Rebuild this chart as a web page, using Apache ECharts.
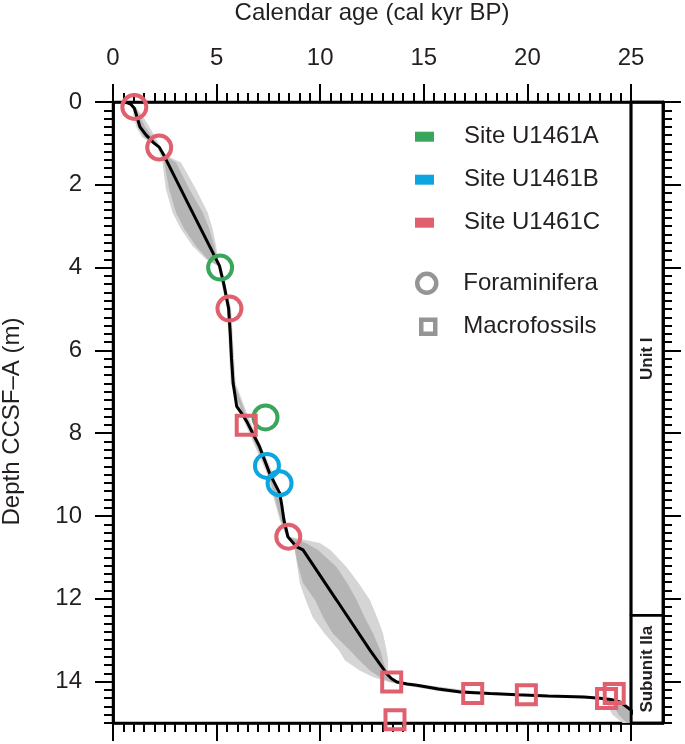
<!DOCTYPE html>
<html><head><meta charset="utf-8">
<script src="https://cdn.jsdelivr.net/npm/echarts@6/dist/echarts.min.js"></script>
<style>html,body{margin:0;padding:0;background:#fff}#c{width:685px;height:744px}</style>
</head><body><div id="c"></div>
<script>
// ---- data ----
const xTicks = [0, 5, 10, 15, 20, 25];
const yTicks = [0, 2, 4, 6, 8, 10, 12, 14];

// age-depth model median (age kyr, depth m)
const lineAge   = [0.6, 0.85, 1.03, 1.15, 1.3, 1.6, 1.95, 2.23, 2.47, 3.8, 5.14, 5.35, 5.58, 5.66, 5.72, 5.8, 5.97, 6.25, 6.49, 7.07, 7.56, 8.04, 8.15, 8.25, 8.44, 8.85, 9.17, 10.79, 12.4, 13.21, 13.45, 13.7, 14.2, 14.67, 15.7, 16.76, 18.2, 19.51, 21.0, 22.74, 23.5, 24.03, 24.5, 25.0, 25.4];
const lineDepth = [0.0, 0.05, 0.15, 0.35, 0.6, 0.8, 0.98, 1.09, 1.30, 2.63, 3.96, 4.4, 4.99, 5.6, 6.2, 6.8, 7.35, 7.55, 7.75, 8.32, 8.97, 9.44, 9.75, 10.1, 10.5, 10.74, 10.82, 12.03, 13.24, 13.81, 13.93, 14.01, 14.06, 14.09, 14.18, 14.25, 14.29, 14.32, 14.35, 14.37, 14.4, 14.43, 14.5, 14.69, 14.95];

// uncertainty envelopes (95% light, 68% dark)
const envDepth = [0.0, 0.12, 0.35, 0.6, 0.85, 1.09, 1.3, 1.46, 2.1, 2.67, 3.07, 3.48, 3.8, 3.96, 4.99, 6.8, 7.75, 8.97, 10.1, 10.5, 10.65, 10.82, 11.23, 11.62, 12.03, 12.45, 12.83, 13.24, 13.49, 13.73, 13.9, 14.01, 14.09, 14.25, 14.32, 14.37, 14.43, 14.6, 14.8, 15.0];
const env95Lo  = [0.55, 0.95, 1.0, 1.12, 1.4, 2.15, 2.3, 2.39, 2.55, 2.87, 3.28, 3.84, 4.49, 5.05, 5.5, 5.68, 6.35, 7.42, 8.05, 8.36, 8.6, 8.77, 8.9, 9.01, 9.3, 9.64, 10.2, 10.9, 11.2, 11.9, 12.6, 13.3, 14.0, 16.0, 18.5, 21.5, 23.7, 23.9, 24.1, 24.6];
const env95Hi  = [0.65, 1.1, 1.45, 1.75, 2.05, 2.3, 2.6, 3.28, 4.0, 4.57, 4.81, 4.98, 5.06, 5.2, 5.7, 5.92, 6.65, 7.72, 8.35, 8.52, 9.98, 10.5, 11.27, 11.85, 12.4, 12.75, 13.03, 13.2, 13.28, 13.26, 13.4, 13.9, 15.2, 17.8, 20.5, 23.2, 24.4, 24.9, 25.3, 25.7];
const env68Lo  = [0.58, 0.98, 1.08, 1.2, 1.5, 2.2, 2.4, 2.47, 2.71, 3.04, 3.44, 4.0, 4.57, 5.1, 5.53, 5.74, 6.42, 7.49, 8.1, 8.4, 8.65, 8.78, 8.95, 9.17, 9.75, 10.15, 10.6, 11.43, 11.9, 12.4, 12.9, 13.4, 14.3, 16.4, 19.0, 22.0, 23.9, 24.2, 24.4, 24.8];
const env68Hi  = [0.62, 1.06, 1.3, 1.55, 1.9, 2.26, 2.52, 3.04, 3.68, 4.33, 4.65, 4.89, 5.04, 5.17, 5.66, 5.86, 6.56, 7.64, 8.3, 8.48, 9.3, 9.9, 10.79, 11.3, 11.76, 12.15, 12.55, 12.9, 13.03, 13.18, 13.35, 13.75, 15.0, 17.3, 20.0, 23.0, 24.2, 24.75, 25.15, 25.5];

// dated samples: [age, depth, type]  F = Foraminifera, M = Macrofossils
const siteA = [[5.17, 4.0, 'F'], [7.36, 7.62, 'F']];
const siteB = [[7.43, 8.79, 'F'], [8.04, 9.21, 'F']];
const siteC = [[1.03, 0.12, 'F'], [2.23, 1.1, 'F'], [5.62, 4.99, 'F'], [6.43, 7.81, 'M'], [8.46, 10.5, 'F'],
               [13.45, 14.01, 'M'], [13.61, 14.92, 'M'], [17.36, 14.29, 'M'], [19.95, 14.32, 'M'], [23.82, 14.41, 'M'], [24.19, 14.29, 'M']];

// lithologic units
const unitNames  = ['Unit I', 'Subunit IIa'];
const unitTop    = [0, 12.4];
const unitBottom = [12.4, 15];

// ---- style ----
const FONT = "'Liberation Sans', Arial, Helvetica, sans-serif";
const TXT = '#231f20';
const cA = '#3aa65c', cB = '#0ba6e0', cC = '#e0606f', cGrey = '#7b7b7b';
const light = '#d5d5d5', dark = '#b5b5b5';

const chart = echarts.init(document.getElementById('c'), null, {renderer: 'canvas'});

function bandRender(lo, hi, color) {
  return function (params, api) {
    if (params.dataIndex !== 0) return null;
    const pts = [];
    for (let i = 0; i < envDepth.length; i++) pts.push(api.coord([hi[i], envDepth[i]]));
    for (let i = envDepth.length - 1; i >= 0; i--) pts.push(api.coord([lo[i], envDepth[i]]));
    const cs = params.coordSys;
    return {
      type: 'polygon', shape: {points: pts}, style: {fill: color},
      clipPath: {type: 'rect', shape: {x: cs.x, y: cs.y, width: cs.width, height: cs.height}}
    };
  };
}

function markerSeries(name, data, color) {
  return {
    type: 'scatter', name: name, xAxisIndex: 0, yAxisIndex: 0, data: data,
    symbol: v => v[2] === 'F' ? 'circle' : 'rect',
    symbolSize: v => v[2] === 'F' ? 24 : 19,
    itemStyle: {color: 'rgba(0,0,0,0)', borderColor: color, borderWidth: 4, opacity: 1},
    z: 6, silent: true
  };
}

const axisLineStyle = {show: true, onZero: false, lineStyle: {color: '#000', width: 2.5}};
const tickStyle = {color: '#000', width: 2};

const legendText = {fontSize: 24, lineHeight: 24, color: TXT, fontFamily: FONT, padding: [0, 0, 0, 25]};

// minor-tick-only y axis (every 0.2 m)
function minorY(grid, pos) {
  return {gridIndex: grid, type: 'value', position: pos, inverse: true, min: 0, max: 15, interval: 1,
    axisLine: axisLineStyle,
    axisTick: {show: true, length: 9, interval: 0, lineStyle: tickStyle},
    minorTick: {show: true, splitNumber: 5, length: 9, lineStyle: tickStyle},
    axisLabel: {show: false}, splitLine: {show: false}, minorSplitLine: {show: false}};
}

const option = {
  animation: false,
  backgroundColor: '#fff',
  textStyle: {fontFamily: FONT, color: TXT},
  grid: [
    {left: 113, top: 102, width: 518, height: 621, outerBoundsMode: 'none', containLabel: false,
     show: true, borderColor: '#000', borderWidth: 2.5, backgroundColor: 'rgba(0,0,0,0)'},
    {left: 631, top: 102, width: 32, height: 621, outerBoundsMode: 'none', containLabel: false,
     show: true, borderColor: '#000', borderWidth: 2.5, backgroundColor: 'rgba(0,0,0,0)'}
  ],
  xAxis: [
    {gridIndex: 0, type: 'value', position: 'top', min: 0, max: 25, interval: 5,
     name: 'Calendar age (cal kyr BP)', nameLocation: 'middle', nameGap: 77,
     nameTextStyle: {fontSize: 24, color: TXT, fontFamily: FONT},
     axisLine: axisLineStyle,
     axisTick: {show: true, length: 18, lineStyle: tickStyle},
     minorTick: {show: true, splitNumber: 10, length: 9, lineStyle: tickStyle},
     axisLabel: {show: true, fontSize: 24, margin: 32, color: TXT, fontFamily: FONT, customValues: xTicks},
     splitLine: {show: false}},
    {gridIndex: 0, type: 'value', position: 'bottom', min: 0, max: 25, interval: 5,
     axisLine: axisLineStyle,
     axisTick: {show: true, length: 18, lineStyle: tickStyle},
     minorTick: {show: true, splitNumber: 10, length: 9, lineStyle: tickStyle},
     axisLabel: {show: false}, splitLine: {show: false}},
    {gridIndex: 1, type: 'value', position: 'top', min: 0, max: 1,
     axisLine: axisLineStyle, axisTick: {show: false}, axisLabel: {show: false}, splitLine: {show: false}},
    {gridIndex: 1, type: 'value', position: 'bottom', min: 0, max: 1,
     axisLine: axisLineStyle, axisTick: {show: false}, axisLabel: {show: false}, splitLine: {show: false}}
  ],
  yAxis: [
    {gridIndex: 0, type: 'value', position: 'left', inverse: true, min: 0, max: 15, interval: 2,
     name: 'Depth CCSF\u2013A (m)', nameLocation: 'middle', nameGap: 89, nameRotate: 90,
     nameTextStyle: {fontSize: 24, color: TXT, fontFamily: FONT, padding: [0, 18, 0, 0]},
     axisLine: axisLineStyle,
     axisTick: {show: true, length: 18, lineStyle: tickStyle, customValues: yTicks},
     axisLabel: {show: true, fontSize: 24, margin: 31, color: TXT, fontFamily: FONT, customValues: yTicks},
     splitLine: {show: false}},
    minorY(0, 'left'),
    {gridIndex: 1, type: 'value', position: 'right', inverse: true, min: 0, max: 15, interval: 2,
     axisLine: axisLineStyle,
     axisTick: {show: true, length: 18, lineStyle: tickStyle, customValues: yTicks},
     axisLabel: {show: false}, splitLine: {show: false}},
    minorY(1, 'right')
  ],
  legend: [
    {orient: 'vertical', left: 415, top: 124.7, itemWidth: 19, itemHeight: 10, itemGap: 19, padding: 0,
     selectedMode: false, textStyle: legendText,
     data: [
       {name: 'Site U1461A', icon: 'rect', itemStyle: {color: cA, borderWidth: 0}},
       {name: 'Site U1461B', icon: 'rect', itemStyle: {color: cB, borderWidth: 0}},
       {name: 'Site U1461C', icon: 'rect', itemStyle: {color: cC, borderWidth: 0}}
     ]},
    {orient: 'vertical', left: 415, top: 271.3, itemWidth: 19, itemHeight: 19, padding: 0,
     selectedMode: false, textStyle: Object.assign({}, legendText, {padding: [0, 0, 0, 22]}),
     data: [{name: 'Foraminifera', icon: 'circle', itemStyle: {color: 'rgba(0,0,0,0)', borderColor: cGrey, borderWidth: 4.5}}]},
    {orient: 'vertical', left: 419, top: 314.7, itemWidth: 14, itemHeight: 14, padding: 0,
     selectedMode: false, textStyle: Object.assign({}, legendText, {padding: [0, 0, 0, 23]}),
     data: [{name: 'Macrofossils', icon: 'rect', itemStyle: {color: 'rgba(0,0,0,0)', borderColor: cGrey, borderWidth: 4.5}}]}
  ],
  series: [
    {type: 'custom', name: '95%', xAxisIndex: 0, yAxisIndex: 0, silent: true, z: 1,
     data: envDepth.map((d, i) => [env95Lo[i], d]), renderItem: bandRender(env95Lo, env95Hi, light)},
    {type: 'custom', name: '68%', xAxisIndex: 0, yAxisIndex: 0, silent: true, z: 2,
     data: envDepth.map((d, i) => [env68Lo[i], d]), renderItem: bandRender(env68Lo, env68Hi, dark)},
    {type: 'line', name: 'model', xAxisIndex: 0, yAxisIndex: 0, silent: true, z: 3,
     data: lineAge.map((a, i) => [a, lineDepth[i]]), showSymbol: false, symbol: 'none', clip: true,
     lineStyle: {color: '#000', width: 3}},
    markerSeries('Site U1461A', siteA, cA),
    markerSeries('Site U1461B', siteB, cB),
    markerSeries('Site U1461C', siteC, cC),
    {type: 'scatter', name: 'Foraminifera', xAxisIndex: 0, yAxisIndex: 0, data: [], symbol: 'circle',
     itemStyle: {color: 'rgba(0,0,0,0)', borderColor: cGrey, borderWidth: 4.5}},
    {type: 'scatter', name: 'Macrofossils', xAxisIndex: 0, yAxisIndex: 0, data: [], symbol: 'rect',
     itemStyle: {color: 'rgba(0,0,0,0)', borderColor: cGrey, borderWidth: 4.5}},
    {type: 'custom', name: 'units', xAxisIndex: 2, yAxisIndex: 2, silent: true, z: 4,
     data: unitNames.map((n, i) => [0, unitTop[i], 1, unitBottom[i]]),
     encode: {x: [0, 2], y: [1, 3]},
     renderItem: function (params, api) {
       const p1 = api.coord([api.value(0), api.value(1)]);
       const p2 = api.coord([api.value(2), api.value(3)]);
       const cx = (p1[0] + p2[0]) / 2, cy = (p1[1] + p2[1]) / 2;
       return {type: 'group', children: [
         {type: 'rect', shape: {x: p1[0], y: p1[1], width: p2[0] - p1[0], height: p2[1] - p1[1]},
          style: {fill: 'none', stroke: '#000', lineWidth: 2.5}},
         {type: 'text', x: cx, y: cy, rotation: Math.PI / 2,
          style: {text: unitNames[params.dataIndex], fill: TXT, font: 'bold 17px ' + FONT,
                  align: 'center', verticalAlign: 'middle', textAlign: 'center', textVerticalAlign: 'middle'}}
       ]};
     }}
  ]
};
chart.setOption(option);
</script>
</body></html>
